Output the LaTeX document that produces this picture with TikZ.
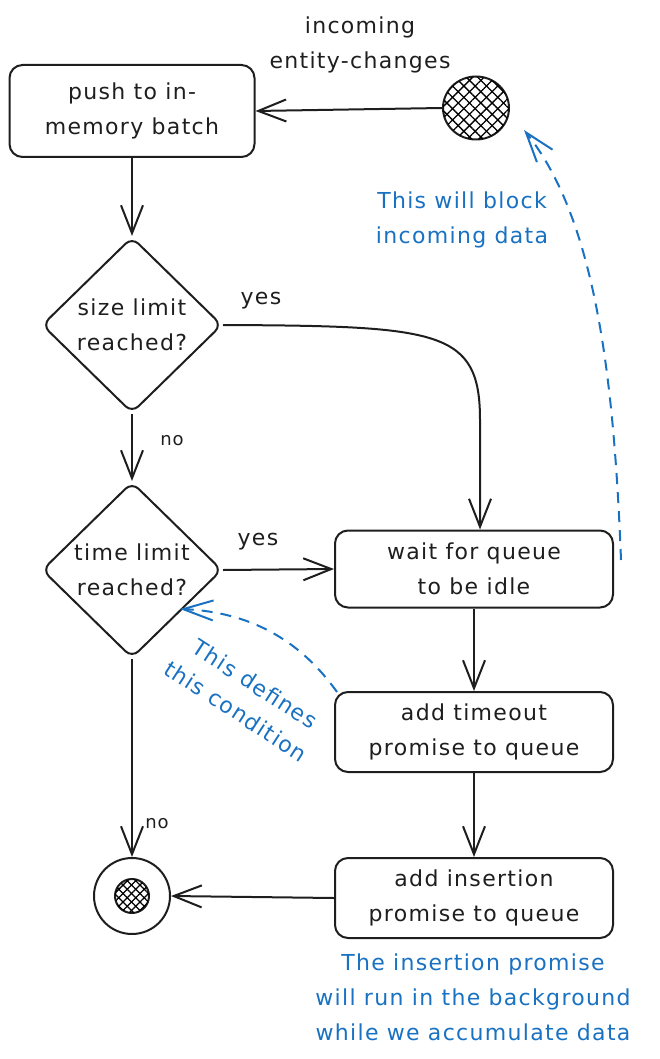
\documentclass[tikz,border=0pt]{standalone}
\usepackage{fontspec}
\setmainfont{DejaVu Sans}[LetterSpace=6]
\usetikzlibrary{shapes.geometric,arrows.meta,patterns.meta}
\definecolor{ink}{HTML}{1E1E1E}
\definecolor{note}{HTML}{1971C2}
\begin{document}
\begin{tikzpicture}[x=1pt,y=-1pt,
  every node/.style={font=\fontsize{22}{35}\selectfont, text=ink},
  txt/.style={align=center, inner sep=0pt},
  notetxt/.style={align=center, inner sep=0pt, text=note},
  smalltxt/.style={inner sep=0pt, font=\fontsize{22}{24}\selectfont},
  tinytxt/.style={inner sep=0pt, font=\fontsize{18}{20}\selectfont},
  procbox/.style={draw=ink, line width=2pt, rounded corners=13pt, align=center, inner sep=0pt},
  decbox/.style={draw=ink, line width=2pt, diamond, rounded corners=9pt, minimum width=180pt, minimum height=176pt, inner sep=0pt},
  hatch/.style={postaction={pattern={Lines[angle=45,distance=#1,line width=1.3pt]}},
                postaction={pattern={Lines[angle=-45,distance=#1,line width=1.3pt]}}},
  flow/.style={draw=ink, line width=2pt, -{Straight Barb[length=28pt,width=22pt,line width=2pt]}},
  notearrow/.style={draw=note, line width=2pt, dash pattern=on 11pt off 8pt,
     -{Straight Barb[length=30pt,width=20pt,line width=2pt,sep=0pt]}},
]
\useasboundingbox (0,0) rectangle (660,1059);

% nodes
\node[procbox, minimum width=245pt, minimum height=92pt] (push) at (132,111) {push to in-\\memory batch};
\node[ellipse, draw=ink, line width=2pt, minimum width=66pt, minimum height=63pt, inner sep=0pt, hatch=8pt] (start) at (476,108) {};
\node[txt] (inlabel) at (360,45) {incoming\\entity-changes};

\node[decbox] (d1) at (132,325) {};
\node[txt] (d1t) at (d1.center) {size limit\\reached?};
\node[decbox] (d2) at (132,570) {};
\node[txt] (d2t) at (d2.center) {time limit\\reached?};

\node[procbox, minimum width=278pt, minimum height=77pt] (wait) at (474,569) {wait for queue\\to be idle};
\node[procbox, minimum width=278pt, minimum height=80pt] (timeout) at (474,732) {add timeout\\promise to queue};
\node[procbox, minimum width=278pt, minimum height=80pt] (insert) at (474,898) {add insertion\\promise to queue};

\node[circle, draw=ink, line width=2pt, minimum size=76pt, inner sep=0pt] (end) at (132,896) {};
\node[circle, draw=ink, line width=2pt, minimum size=34pt, inner sep=0pt, hatch=6pt] (endin) at (end.center) {};

% labels
\node[smalltxt] (yes1) at (261,301) {yes};
\node[tinytxt] (no1) at (172,441) {no};
\node[smalltxt] (yes2) at (258,542) {yes};
\node[tinytxt] (no2) at (157,824) {no};

\node[notetxt] (n1) at (462,220) {This will block\\incoming data};
\node[notetxt, rotate=-33] (n2a) at (255,684) {This defines};
\node[notetxt, rotate=-33] (n2b) at (236,711) {this condition};
\node[notetxt] (n3) at (473,997) {The insertion promise\\will run in the background\\while we accumulate data};

% connectors
\draw[flow] (start.west) -- (push.east);
\draw[flow] (push.south) -- (d1.north);
\coordinate (waitin) at ([xshift=6pt]wait.north);
\draw[flow] (d1.east) .. controls (440,326) and (480,330) .. (480,420) -- (waitin);
\draw[flow] (d1.south) -- (d2.north);
\draw[flow] (d2.east) -- (wait.west);
\draw[flow] (wait.south) -- (timeout.north);
\draw[flow] (timeout.south) -- (insert.north);
\draw[flow] (insert.west) -- (end.east);
\draw[flow] (d2.south) -- (end.north);

% notes arrows
\coordinate (b1) at ([xshift=7pt,yshift=9pt]wait.east);
\coordinate (b1end) at (524,130);
\draw[notearrow] (b1) .. controls (614,380) and (596,220) .. (b1end);
\coordinate (b2) at ([xshift=3pt,yshift=-1pt]timeout.north west);
\coordinate (b2end) at (180,609);
\draw[notearrow] (b2) .. controls (300,640) and (250,612) .. (b2end);
\end{tikzpicture}
\end{document}
